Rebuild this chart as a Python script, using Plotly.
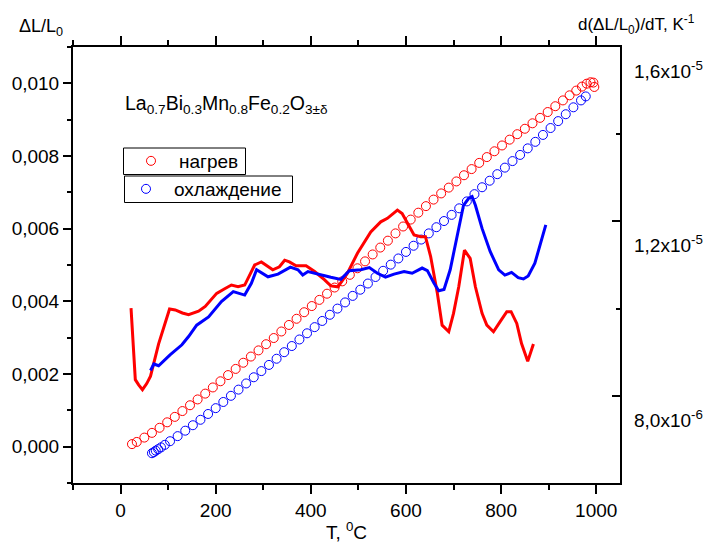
import plotly.graph_objects as go

# --- Dilatometric data: relative elongation ΔL/L0 (left axis) ---
heat_T = [24, 34, 50, 66, 82, 98, 114, 130, 146, 162, 178, 194, 210, 226, 242, 258,
          274, 290, 306, 322, 338, 354, 370, 386, 402, 418, 434, 450, 466, 482, 498,
          514, 530, 546, 562, 578, 594, 610, 626, 642, 658, 674, 690, 706, 722, 738,
          754, 770, 786, 802, 818, 834, 850, 866, 882, 898, 914, 930, 944, 958, 970,
          980, 988, 994, 996]
heat_dL = [0.00007, 0.00013, 0.00025, 0.00038, 0.00052, 0.00067, 0.00082, 0.00098,
           0.00114, 0.00130, 0.00146, 0.00163, 0.00180, 0.00197, 0.00214, 0.00231,
           0.00248, 0.00265, 0.00282, 0.00299, 0.00317, 0.00335, 0.00352, 0.00370,
           0.00387, 0.00404, 0.00421, 0.00438, 0.00455, 0.00473, 0.00491, 0.00510,
           0.00529, 0.00548, 0.00567, 0.00587, 0.00606, 0.00625, 0.00644, 0.00662,
           0.00680, 0.00697, 0.00713, 0.00730, 0.00747, 0.00764, 0.00781, 0.00797,
           0.00813, 0.00829, 0.00845, 0.00860, 0.00875, 0.00890, 0.00905, 0.00921,
           0.00937, 0.00953, 0.00967, 0.00980, 0.00991, 0.00999, 0.01003, 0.01002,
           0.00990]

cool_T = [66, 70, 74, 79, 85, 93, 104, 120, 136, 152, 168, 184, 200, 216, 232, 248,
          264, 280, 296, 312, 328, 344, 360, 376, 392, 408, 424, 440, 456, 472, 488,
          504, 520, 536, 552, 568, 584, 600, 616, 632, 648, 664, 680, 696, 712, 728,
          744, 760, 776, 792, 808, 824, 840, 856, 872, 888, 904, 920, 936, 952, 968,
          978]
cool_dL = [-0.00018, -0.00015, -0.00011, -0.00007, -0.00002, 0.00005, 0.00015,
           0.00029, 0.00044, 0.00059, 0.00074, 0.00090, 0.00106, 0.00123, 0.00140,
           0.00157, 0.00174, 0.00191, 0.00208, 0.00225, 0.00242, 0.00260, 0.00277,
           0.00295, 0.00312, 0.00329, 0.00346, 0.00363, 0.00380, 0.00397, 0.00415,
           0.00432, 0.00449, 0.00467, 0.00484, 0.00501, 0.00518, 0.00536, 0.00553,
           0.00570, 0.00587, 0.00604, 0.00621, 0.00638, 0.00656, 0.00675, 0.00695,
           0.00714, 0.00732, 0.00750, 0.00768, 0.00786, 0.00803, 0.00821, 0.00839,
           0.00858, 0.00877, 0.00896, 0.00915, 0.00934, 0.00953, 0.00964]

# --- Thermal expansion coefficient d(ΔL/L0)/dT (right axis) ---
heat_dT_T = [22, 26, 31, 38, 46, 55, 63, 80, 103, 115, 130, 143, 164, 178, 202, 218,
             233, 247, 261, 282, 296, 320, 334, 345, 355, 369, 390, 408, 429, 442, 457,
             477, 498, 526, 547, 561, 582, 592, 603, 617, 631, 641, 652, 666, 676, 690,
             700, 711, 723, 735, 746, 760, 770, 784, 798, 812, 821, 833, 843, 856, 868]
heat_alpha = [1.001, 0.928, 0.837, 0.825, 0.814, 0.828, 0.845, 0.919, 0.999, 0.997,
              0.990, 0.986, 0.994, 1.005, 1.035, 1.045, 1.054, 1.050, 1.054, 1.100,
              1.107, 1.089, 1.096, 1.111, 1.107, 1.098, 1.098, 1.085, 1.066, 1.052,
              1.050, 1.081, 1.127, 1.176, 1.199, 1.207, 1.226, 1.218, 1.196, 1.169,
              1.165, 1.165, 1.119, 1.035, 0.962, 0.947, 0.989, 1.050, 1.134, 1.115,
              1.050, 0.989, 0.962, 0.947, 0.970, 0.993, 0.993, 0.966, 0.920, 0.879,
              0.919]  # x1e-5 K^-1

cool_dT_T = [63, 70, 80, 104, 129, 143, 160, 185, 212, 237, 261, 275, 286, 310, 331,
             357, 373, 383, 394, 421, 442, 463, 481, 505, 523, 540, 557, 575, 596, 613,
             634, 645, 659, 669, 680, 693, 707, 721, 732, 739, 746, 760, 777, 795, 808,
             822, 836, 847, 857, 871, 894]
cool_alpha = [0.858, 0.873, 0.869, 0.894, 0.917, 0.936, 0.962, 0.981, 1.016, 1.039,
              1.031, 1.058, 1.089, 1.073, 1.079, 1.095, 1.089, 1.077, 1.085, 1.077,
              1.072, 1.067, 1.087, 1.089, 1.094, 1.081, 1.072, 1.079, 1.085, 1.081,
              1.093, 1.087, 1.058, 1.041, 1.044, 1.089, 1.161, 1.237, 1.253, 1.257,
              1.237, 1.184, 1.131, 1.089, 1.077, 1.083, 1.071, 1.068, 1.075, 1.104,
              1.192]  # x1e-5 K^-1

# --- Axis ticks ---
x_ticks = [0, 200, 400, 600, 800, 1000]
left_ticks = [0.000, 0.002, 0.004, 0.006, 0.008, 0.010]
right_ticks = [8.0e-6, 1.2e-5, 1.6e-5]
right_labels = ["8,0x10<sup>-6</sup>", "1,2x10<sup>-5</sup>", "1,6x10<sup>-5</sup>"]

FONT = "Liberation Sans, Arial, sans-serif"
RED = "#ff0000"
BLUE = "#0000ff"

W, H = 710, 543
M_L, M_R, M_T, M_B = 73, 90, 47, 60
PW, PH = W - M_L - M_R, H - M_T - M_B


def px_x(x):
    return (x - M_L) / PW


def px_y(y):
    return (H - M_B - y) / PH


fig = go.Figure()

fig.add_trace(go.Scatter(
    x=heat_T, y=heat_dL, mode="markers", name="нагрев",
    marker=dict(symbol="circle-open", size=9, color=RED, line=dict(width=1)),
    legend="legend",
))
fig.add_trace(go.Scatter(
    x=cool_T, y=cool_dL, mode="markers", name="охлаждение",
    marker=dict(symbol="circle-open", size=9, color=BLUE, line=dict(width=1)),
    legend="legend2",
))
fig.add_trace(go.Scatter(
    x=heat_dT_T, y=[v * 1e-5 for v in heat_alpha], mode="lines", yaxis="y2",
    line=dict(color=RED, width=3), showlegend=False,
))
fig.add_trace(go.Scatter(
    x=cool_dT_T, y=[v * 1e-5 for v in cool_alpha], mode="lines", yaxis="y2",
    line=dict(color=BLUE, width=3), showlegend=False,
))

axis_common = dict(showgrid=False, zeroline=False, showline=True, linecolor="black",
                   linewidth=2, tickcolor="black", tickwidth=1.5, automargin=False,
                   tickfont=dict(family=FONT, size=19, color="black"))

legend_common = dict(xanchor="left", yanchor="middle", bgcolor="rgba(0,0,0,0)",
                     borderwidth=0, itemwidth=46,
                     font=dict(family=FONT, size=19, color="black"),
                     tracegroupgap=0)

fig.update_layout(
    width=W, height=H,
    margin=dict(l=M_L, r=M_R, t=M_T, b=M_B, autoexpand=False),
    paper_bgcolor="white", plot_bgcolor="white",
    separators=", ",
    font=dict(family=FONT, size=19, color="black"),
    xaxis=dict(
        **axis_common, range=[-100, 1050], tickvals=x_ticks, ticks="outside",
        ticklen=9, mirror="ticks",
        minor=dict(dtick=100, tick0=0, ticks="outside", ticklen=5, tickcolor="black"),
        title=dict(text="T, <sup>0</sup>C", font=dict(family=FONT, size=19), standoff=4),
    ),
    yaxis=dict(
        **axis_common, range=[-0.001, 0.011], tickvals=left_ticks, tickformat=".3f",
        ticks="outside", ticklen=8,
        minor=dict(dtick=0.001, tick0=0, ticks="outside", ticklen=4, tickcolor="black"),
    ),
    yaxis2=dict(
        **axis_common, range=[6e-6, 1.6e-5], overlaying="y", side="right",
        tickvals=right_ticks, showticklabels=False, ticks="inside", ticklen=8,
        minor=dict(dtick=2e-6, tick0=0, ticks="inside", ticklen=4, tickcolor="black"),
    ),
    legend=dict(**legend_common, x=px_x(123), y=px_y(161)),
    legend2=dict(**legend_common, x=px_x(118), y=px_y(189)),
)

# Frames around the two legend entries
fig.add_shape(type="rect", xref="paper", yref="paper", layer="below",
              x0=px_x(123.5), x1=px_x(245.5), y0=px_y(174.5), y1=px_y(148),
              line=dict(color="black", width=1), fillcolor="white")
fig.add_shape(type="rect", xref="paper", yref="paper", layer="below",
              x0=px_x(124.5), x1=px_x(292.5), y0=px_y(202.5), y1=px_y(176),
              line=dict(color="black", width=1), fillcolor="white")

annotations = [
    dict(text="ΔL/L<sub>0</sub>", xref="paper", yref="paper", x=px_x(65), y=px_y(27),
         xanchor="right", yanchor="middle", showarrow=False,
         font=dict(family=FONT, size=18)),
    dict(text="d(ΔL/L<sub>0</sub>)/dT, K<sup>-1</sup>", xref="paper", yref="paper",
         x=px_x(576), y=px_y(25), xanchor="left", yanchor="middle", showarrow=False,
         font=dict(family=FONT, size=17)),
    dict(text="La<sub>0.7</sub>Bi<sub>0.3</sub>Mn<sub>0.8</sub>Fe<sub>0.2</sub>O<sub>3±δ</sub>",
         xref="paper", yref="paper", x=px_x(123), y=px_y(104), xanchor="left",
         yanchor="middle", showarrow=False, font=dict(family=FONT, size=19.5)),
]
for val, lab in zip(right_ticks, right_labels):
    annotations.append(dict(text=lab, xref="paper", yref="y2", x=px_x(631.5), y=val,
                            yshift=-23, xanchor="left", yanchor="middle",
                            showarrow=False, font=dict(family=FONT, size=19)))
fig.update_layout(annotations=annotations)

fig.write_html("out.html")
